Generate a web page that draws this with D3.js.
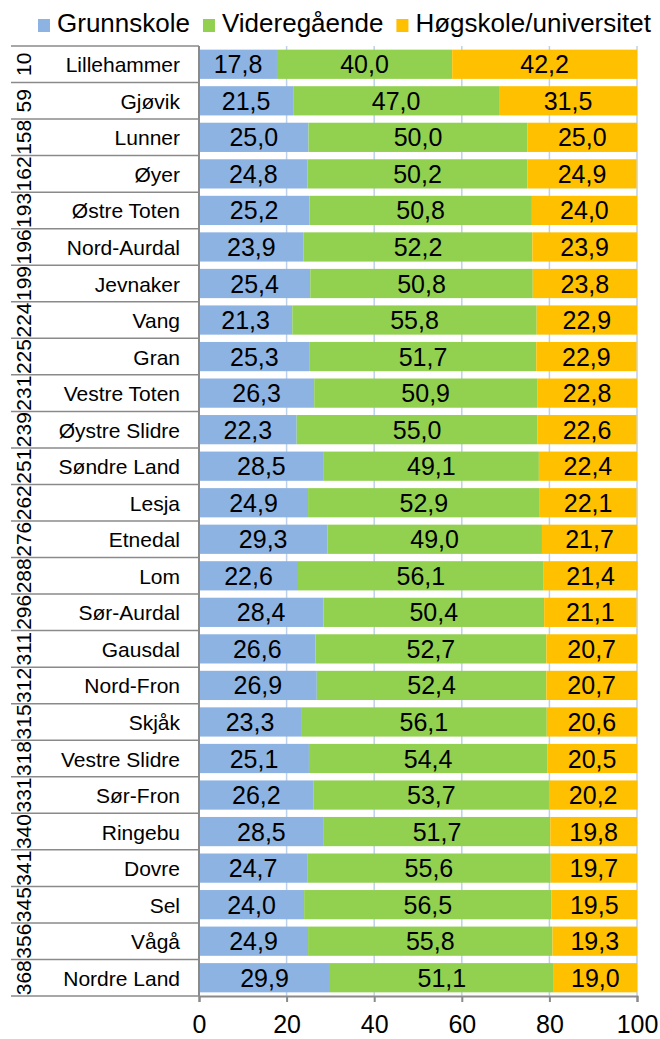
<!DOCTYPE html>
<html>
<head>
<meta charset="utf-8">
<script src="https://cdn.jsdelivr.net/npm/d3@7"></script>
<style>
  body { margin: 0; background: #fff; }
  svg { font-family: "Liberation Sans", Arial, sans-serif; }
</style>
</head>
<body>
<svg id="chart"></svg>
<script>
var kommuner = ["Lillehammer", "Gjøvik", "Lunner", "Øyer", "Østre Toten", "Nord-Aurdal", "Jevnaker",
  "Vang", "Gran", "Vestre Toten", "Øystre Slidre", "Søndre Land", "Lesja", "Etnedal", "Lom",
  "Sør-Aurdal", "Gausdal", "Nord-Fron", "Skjåk", "Vestre Slidre", "Sør-Fron", "Ringebu", "Dovre",
  "Sel", "Vågå", "Nordre Land"];
var rangering = [10, 59, 158, 162, 193, 196, 199, 224, 225, 231, 239, 251, 262, 276, 288, 296,
  311, 312, 315, 318, 331, 340, 341, 345, 356, 368];
var grunnskole = [17.8, 21.5, 25.0, 24.8, 25.2, 23.9, 25.4, 21.3, 25.3, 26.3, 22.3, 28.5, 24.9,
  29.3, 22.6, 28.4, 26.6, 26.9, 23.3, 25.1, 26.2, 28.5, 24.7, 24.0, 24.9, 29.9];
var videregaende = [40.0, 47.0, 50.0, 50.2, 50.8, 52.2, 50.8, 55.8, 51.7, 50.9, 55.0, 49.1, 52.9,
  49.0, 56.1, 50.4, 52.7, 52.4, 56.1, 54.4, 53.7, 51.7, 55.6, 56.5, 55.8, 51.1];
var hogskole = [42.2, 31.5, 25.0, 24.9, 24.0, 23.9, 23.8, 22.9, 22.9, 22.8, 22.6, 22.4, 22.1,
  21.7, 21.4, 21.1, 20.7, 20.7, 20.6, 20.5, 20.2, 19.8, 19.7, 19.5, 19.3, 19.0];
var serier = ["Grunnskole", "Videregående", "Høgskole/universitet"];
var farger = ["#8db3e2", "#92d050", "#ffc000"];
var xTicks = [0, 20, 40, 60, 80, 100];

var W = 660, H = 1039;
var svg = d3.select("#chart").attr("width", W).attr("height", H);

var pLeft = 199, pRight = 637, pTop = 46, pBottom = 996;

var data = kommuner.map(function (k, i) {
  return { kommune: k, rang: rangering[i], Grunnskole: grunnskole[i],
    "Videregående": videregaende[i], "Høgskole/universitet": hogskole[i] };
});

var x = d3.scaleLinear().domain([0, 100]).range([pLeft, pRight]);
var y = d3.scaleBand().domain(kommuner).range([pTop, pBottom]).paddingInner(0.2).paddingOuter(0.1);
var rowStep = (pBottom - pTop) / kommuner.length;
var rowY = function (i) { return pTop + i * rowStep; };

var stack = d3.stack().keys(serier)(data);
var color = d3.scaleOrdinal().domain(serier).range(farger);

// gridlines
svg.append("g").selectAll("line").data(xTicks.slice(1)).join("line")
  .attr("x1", d => x(d)).attr("x2", d => x(d))
  .attr("y1", pTop).attr("y2", pBottom)
  .attr("stroke", "#bed1ea").attr("stroke-width", 1.5);

// bars
var layer = svg.append("g").selectAll("g").data(stack).join("g")
  .attr("fill", d => color(d.key));
layer.selectAll("rect").data(d => d).join("rect")
  .attr("x", d => x(d[0]))
  .attr("width", d => x(d[1]) - x(d[0]))
  .attr("y", d => y(d.data.kommune))
  .attr("height", y.bandwidth());

// value labels
stack.forEach(function (s) {
  svg.append("g").selectAll("text").data(s).join("text")
    .attr("x", d => (x(d[0]) + x(d[1])) / 2)
    .attr("y", d => y(d.data.kommune) + y.bandwidth() / 2 + 9)
    .attr("text-anchor", "middle")
    .attr("font-size", 25)
    .attr("fill", "#000")
    .text(d => d3.format(".1f")(d.data[s.key]).replace(".", ","));
});

// category table lines
svg.append("g").selectAll("line").data(d3.range(kommuner.length + 1)).join("line")
  .attr("x1", 11).attr("x2", pLeft)
  .attr("y1", i => rowY(i)).attr("y2", i => rowY(i))
  .attr("stroke", "#8a8a8a").attr("stroke-width", 1.5);

// names
svg.append("g").selectAll("text").data(data).join("text")
  .attr("x", 180)
  .attr("y", (d, i) => rowY(i) + rowStep / 2 + 8)
  .attr("text-anchor", "end")
  .attr("font-size", 21)
  .attr("fill", "#000")
  .text(d => d.kommune);

// ranks, rotated
svg.append("g").selectAll("text").data(data).join("text")
  .attr("transform", (d, i) => "translate(31," + (rowY(i) + rowStep / 2) + ") rotate(-90)")
  .attr("text-anchor", "middle")
  .attr("font-size", 21)
  .attr("fill", "#000")
  .text(d => d.rang);

// y axis line
svg.append("line")
  .attr("x1", pLeft).attr("x2", pLeft).attr("y1", pTop).attr("y2", pBottom)
  .attr("stroke", "#8a8a8a").attr("stroke-width", 2);

// x axis
var xAxis = svg.append("g")
  .attr("transform", "translate(0," + pBottom + ")")
  .call(d3.axisBottom(x).tickValues(xTicks).tickSize(6).tickPadding(13));
xAxis.select(".domain").attr("stroke", "#8a8a8a").attr("stroke-width", 2);
xAxis.selectAll(".tick line").attr("stroke", "#8a8a8a").attr("stroke-width", 2);
xAxis.selectAll(".tick text")
  .attr("font-size", 25)
  .attr("font-family", "'Liberation Sans', Arial, sans-serif")
  .attr("fill", "#000");

// legend
var legend = svg.append("g");
var lx = 38;
serier.forEach(function (s) {
  legend.append("rect")
    .attr("x", lx).attr("y", 19).attr("width", 12).attr("height", 13)
    .attr("fill", color(s));
  var t = legend.append("text")
    .attr("x", lx + 19).attr("y", 32)
    .attr("font-size", 26)
    .attr("fill", "#000")
    .text(s);
  lx += 19 + t.node().getComputedTextLength() + 13;
});
</script>
</body>
</html>
